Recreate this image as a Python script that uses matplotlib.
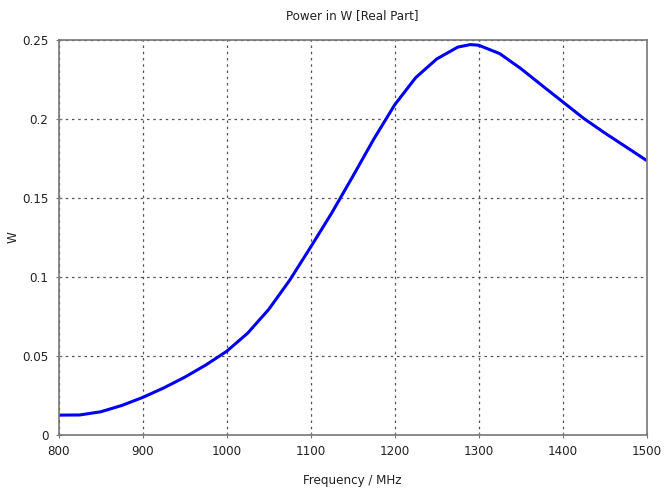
import matplotlib
matplotlib.use('Agg')
import matplotlib.pyplot as plt

plt.rcParams['font.family'] = ['DejaVu Sans']
plt.rcParams['font.stretch'] = 'condensed'

# frequency in MHz, power real part in W
freq = [800, 825, 850, 875, 900, 925, 950, 975, 1000, 1025, 1050, 1075,
        1100, 1125, 1150, 1175, 1200, 1225, 1250, 1275, 1290, 1300, 1325,
        1350, 1375, 1400, 1425, 1450, 1475, 1500]
power = [0.0126, 0.0127, 0.0147, 0.0187, 0.0238, 0.0298, 0.0366, 0.0443, 0.0530,
         0.0645, 0.0795, 0.0980, 0.1190, 0.1405, 0.1636, 0.1872, 0.2090, 0.2262,
         0.2380, 0.2455, 0.2471, 0.2467, 0.2414, 0.2320, 0.2214, 0.2109, 0.2004,
         0.1912, 0.1825, 0.1737]

xticks = [800, 900, 1000, 1100, 1200, 1300, 1400, 1500]
yticks = [0, 0.05, 0.1, 0.15, 0.2, 0.25]
yticklabels = ['0', '0.05', '0.1', '0.15', '0.2', '0.25']

fig = plt.figure(figsize=(6.68, 4.91), dpi=100)
ax = fig.add_axes([0.0879, 0.114, 0.8802, 0.8045])

ax.plot(freq, power, color='#0000f0', linewidth=2.2, solid_capstyle='butt',
        solid_joinstyle='round')

ax.set_xlim(800, 1500)
ax.set_ylim(0, 0.25)
ax.set_xticks(xticks)
ax.set_xticklabels([str(t) for t in xticks])
ax.set_yticks(yticks)
ax.set_yticklabels(yticklabels)

ax.grid(True, color='#555555', linestyle=(0, (2, 3)), linewidth=0.9)
for s in ax.spines.values():
    s.set_color('#777777')
    s.set_linewidth(1.2)
ax.tick_params(direction='inout', length=5, color='#777777', labelsize=9.5,
               labelcolor='#222222', pad=5)

ax.set_title('Power in W [Real Part]', fontsize=9.5, color='#222222', pad=15)
ax.set_xlabel('Frequency / MHz', fontsize=9.5, color='#222222', labelpad=11)
ax.set_ylabel('W', fontsize=9.5, color='#222222', labelpad=2)

fig.savefig('out.png', dpi=100)
